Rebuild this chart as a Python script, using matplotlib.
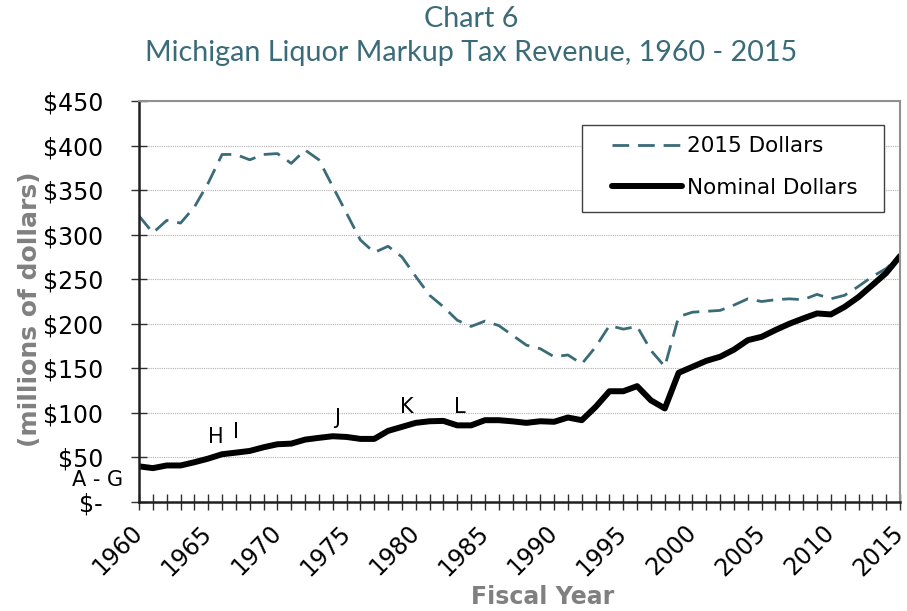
import matplotlib
matplotlib.use("Agg")
import matplotlib.pyplot as plt
from matplotlib.patches import Rectangle

years = list(range(1960, 2016))
real_2015 = [321, 302, 316, 313, 331, 358, 390, 390, 384, 390,
             391, 380, 395, 384, 354, 324, 294, 280, 287, 275,
             253, 232, 219, 204, 197, 203, 198, 187, 176, 172,
             163, 165, 155, 174, 198, 194, 197, 170, 152, 208,
             213, 214, 215, 221, 228, 225, 227, 228, 227, 233,
             228, 232, 242, 253, 262, 276]
nominal = [40, 38, 41, 41, 44.6, 48.7, 53.6, 55.4, 57.3, 61.4,
           64.8, 65.5, 70, 72, 73.8, 73, 70.8, 70.8, 79.8, 84.3,
           88.8, 90.6, 91, 86, 86, 91.8, 91.8, 90.5, 88.8, 90.6,
           90, 94.8, 91.8, 106.7, 124.3, 124.3, 130, 114, 105, 145,
           151.7, 158.4, 163, 171, 181.6, 185.4, 193, 200, 206, 211.6,
           210.5, 219, 230, 243.4, 257, 276]
yticks = [0, 50, 100, 150, 200, 250, 300, 350, 400, 450]
ytick_labels = ["$-", "$50", "$100", "$150", "$200", "$250", "$300", "$350", "$400", "$450"]
xticks = list(range(1960, 2016, 5))
notes = ["A - G", "H", "I", "J", "K", "L"]
note_x = [1957.0, 1965.56, 1966.99, 1974.31, 1979.35, 1983.2]
note_y = [25.2, 73.0, 78.6, 94.3, 106.6, 106.6]

teal = "#3a6b78"
fig = plt.figure(figsize=(9.07, 6.11), dpi=100)
ax = fig.add_axes([0.1533, 0.1784, 0.839, 0.6563])

ax.plot(years, real_2015, color=teal, lw=2.0, dashes=(6.0, 3.2), label="2015 Dollars")
ax.plot(years, nominal, color="black", lw=4.3, solid_capstyle="round",
        solid_joinstyle="round", label="Nominal Dollars")

ax.set_xlim(1960, 2015)
ax.set_ylim(0, 450)
ax.set_yticks(yticks)
ax.set_yticklabels(ytick_labels, fontsize=17, family="DejaVu Sans")
ax.set_xticks(xticks)
ax.set_xticks(years, minor=True)
ax.set_xticklabels([str(x) for x in xticks], rotation=45, ha="right", va="center",
                   rotation_mode="anchor", fontsize=17, family="DejaVu Sans")
ax.tick_params(axis="x", which="both", direction="inout", length=12, width=1, color="#303030", pad=13.5)
ax.tick_params(axis="y", direction="inout", length=12, width=1, color="#303030", pad=20)
ax.grid(axis="y", color="#b0b0b0", linestyle=(0, (1, 1)), linewidth=0.8)
ax.set_axisbelow(True)
for s in ["left", "bottom"]:
    ax.spines[s].set_color("#202020")
    ax.spines[s].set_linewidth(1.8)
for s in ["top", "right"]:
    ax.spines[s].set_color("#909090")
    ax.spines[s].set_linewidth(1.5)

for t, x, y in zip(notes, note_x, note_y):
    ax.text(x, y, t, fontsize=15, ha="center", va="center", clip_on=False)

# legend frame and legend
ax.add_patch(Rectangle((0.582, 0.723), 0.397, 0.217, transform=ax.transAxes,
                       facecolor="white", edgecolor="#404040", lw=1.0, zorder=4))
leg = ax.legend(loc="upper left", bbox_to_anchor=(0.6216, 0.912), fontsize=15.5, frameon=False,
                handlelength=3.25, handletextpad=0.25, borderpad=0, labelspacing=1.0,
                borderaxespad=0)
leg.set_zorder(5)

ax.set_ylabel("(millions of dollars)", fontsize=18, fontweight="bold", color="#808080")
ax.yaxis.set_label_coords(-0.127, 0.48)
ax.set_xlabel("Fiscal Year", fontsize=17, fontweight="bold", color="#808080")
ax.xaxis.set_label_coords(0.531, -0.237)
ax.xaxis.label.set_va("center")

fig.text(0.519, 0.969, "Chart 6", ha="center", va="center", fontsize=20.7, color=teal, family="Lato")
fig.text(0.519, 0.913, "Michigan Liquor Markup Tax Revenue, 1960 - 2015", ha="center", va="center",
         fontsize=20.7, color=teal, family="Lato")

fig.savefig("out.png", dpi=100)
